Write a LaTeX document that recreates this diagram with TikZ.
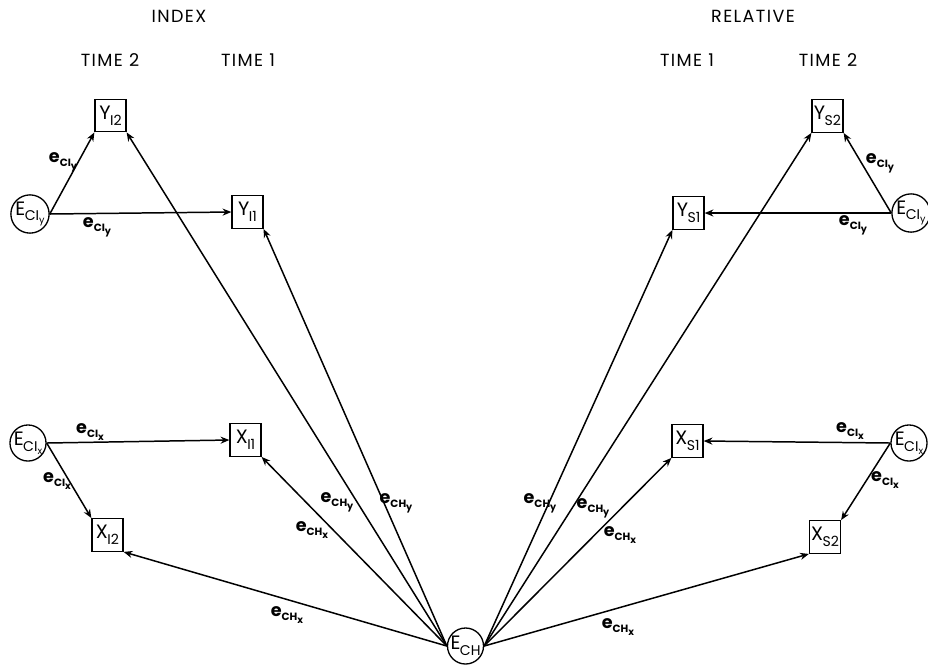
\documentclass[tikz,border=0pt]{standalone}
\usepackage{fontspec}
\setmainfont{Poppins}
\usetikzlibrary{arrows.meta}
\newcommand\vsub[2]{#1\kern-0.3pt\raisebox{-0.55ex}{\fontsize{8}{8}\selectfont #2}}
\newcommand\esub[2]{{\bfseries e}\raisebox{-0.45ex}{\fontsize{6}{6}\selectfont\bfseries #1\raisebox{-0.45ex}{\fontsize{5.5}{5.5}\selectfont #2}}}
\begin{document}
\begin{tikzpicture}[x=0.02cm,y=-0.02cm,
  box/.style={draw,line width=0.75pt,minimum width=17.6pt,minimum height=18.5pt,inner sep=0pt,font=\fontsize{11}{11}\selectfont},
  err/.style={draw,circle,line width=0.75pt,minimum size=20.5pt,inner sep=0pt,font=\fontsize{11}{11}\selectfont},
  lab/.style={inner sep=0pt},
  head/.style={font=\fontsize{10}{10}\selectfont\addfontfeature{LetterSpace=8}},
  con/.style={line width=0.85pt,-{Stealth[length=5pt,width=4pt]}}
]
\useasboundingbox (0,0) rectangle (928,664);
% headings
\node[head] (hindex) at (179,16) {INDEX};
\node[head] (hrel) at (753,16) {RELATIVE};
\node[head] (hlt2) at (110,60) {TIME 2};
\node[head] (hlt1) at (248,60) {TIME 1};
\node[head] (hrt1) at (687,60) {TIME 1};
\node[head] (hrt2) at (828,60) {TIME 2};
% boxes
\node[box] (yi2) at (110.5,115.5) {\vsub{Y}{I2}};
\node[box] (yi1) at (247.5,212) {\vsub{Y}{I1}};
\node[box] (xi1) at (245.5,440) {\vsub{X}{I1}};
\node[box] (xi2) at (107.5,535) {\vsub{X}{I2}};
\node[box] (ys2) at (827.5,116) {\vsub{Y}{S2}};
\node[box] (ys1) at (688.5,213) {\vsub{Y}{S1}};
\node[box] (xs1) at (687.5,441) {\vsub{X}{S1}};
\node[box] (xs2) at (825,537) {\vsub{X}{S2}};
% error circles
\node[err] (eiyl) at (30,214) {\vsub{E}{CI\raisebox{-0.4ex}{\fontsize{5.5}{5.5}\selectfont y}}};
\node[err] (eixl) at (28,443) {\vsub{E}{CI\raisebox{-0.4ex}{\fontsize{5.5}{5.5}\selectfont x}}};
\node[err] (eiyr) at (911,213) {\vsub{E}{CI\raisebox{-0.4ex}{\fontsize{5.5}{5.5}\selectfont y}}};
\node[err] (eixr) at (909,443) {\vsub{E}{CI\raisebox{-0.4ex}{\fontsize{5.5}{5.5}\selectfont x}}};
\node[err] (ech) at (465.5,646) {\vsub{E}{CH}};
% connectors left
\draw[con] (eiyl.east) -- (yi2.south west);
\draw[con] (eiyl.east) -- (yi1.west);
\draw[con] (eixl.east) -- (xi1.west);
\draw[con] (eixl.east) -- (xi2.north west);
\draw[con] (ech.west) -- (yi2.south east);
\draw[con] (ech.west) -- (yi1.south east);
\draw[con] (ech.west) -- (xi1.south east);
\draw[con] (ech.west) -- (xi2.south east);
% connectors right
\draw[con] (eiyr.west) -- (ys2.south east);
\draw[con] (eiyr.west) -- (ys1.east);
\draw[con] (eixr.west) -- (xs1.east);
\draw[con] (eixr.west) -- (xs2.north east);
\draw[con] (ech.east) -- (ys2.south west);
\draw[con] (ech.east) -- (ys1.south west);
\draw[con] (ech.east) -- (xs1.south west);
\draw[con] (ech.east) -- (xs2.south west);
% labels
\node[lab] (l1) at (63,162) {\esub{CI}{y}};
\node[lab] (l2) at (97,227) {\esub{CI}{y}};
\node[lab] (l3) at (90,432) {\esub{CI}{x}};
\node[lab] (l4) at (57,481) {\esub{CI}{x}};
\node[lab] (l5) at (337,502) {\esub{CH}{y}};
\node[lab] (l6) at (396,503) {\esub{CH}{y}};
\node[lab] (l7) at (312,530) {\esub{CH}{x}};
\node[lab] (l8) at (287,615) {\esub{CH}{x}};
\node[lab] (r1) at (880,163) {\esub{CI}{y}};
\node[lab] (r2) at (853,225) {\esub{CI}{y}};
\node[lab] (r3) at (850,431) {\esub{CI}{x}};
\node[lab] (r4) at (885,480) {\esub{CI}{x}};
\node[lab] (r5) at (540,503) {\esub{CH}{y}};
\node[lab] (r6) at (593,508) {\esub{CH}{y}};
\node[lab] (r7) at (620,535) {\esub{CH}{x}};
\node[lab] (r8) at (618,627) {\esub{CH}{x}};
\end{tikzpicture}
\end{document}
